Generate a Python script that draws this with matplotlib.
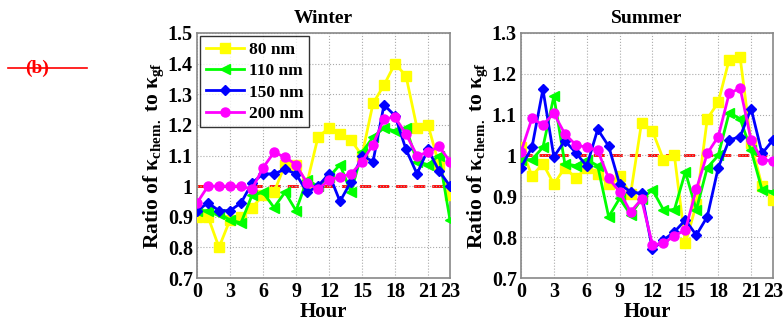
import numpy as np
import matplotlib
matplotlib.use("Agg")
import matplotlib.pyplot as plt

# ---------------- data ----------------
hours = list(range(24))
sizes = ["80 nm", "110 nm", "150 nm", "200 nm"]

winter_80 = [0.90, 0.90, 0.80, 0.89, 0.90, 0.93, 0.97, 0.98, 1.07, 1.07, 1.01, 1.16,
             1.19, 1.17, 1.15, 1.10, 1.27, 1.33, 1.40, 1.36, 1.19, 1.20, 1.07, 0.97]
winter_110 = [0.92, 0.92, 0.91, 0.89, 0.88, 0.97, 0.98, 0.93, 0.98, 0.92, 1.02, 1.00,
              1.03, 1.07, 0.98, 1.11, 1.16, 1.19, 1.18, 1.19, 1.08, 1.07, 1.10, 0.89]
winter_150 = [0.92, 0.945, 0.92, 0.92, 0.945, 1.01, 1.04, 1.04, 1.055, 1.04, 0.98, 1.00,
              1.04, 0.95, 1.015, 1.10, 1.08, 1.265, 1.23, 1.12, 1.04, 1.12, 1.05, 1.00]
winter_200 = [0.945, 1.00, 1.00, 1.00, 1.00, 0.99, 1.06, 1.11, 1.095, 1.07, 1.01, 0.99,
              1.02, 1.03, 1.04, 1.08, 1.135, 1.22, 1.225, 1.17, 1.10, 1.11, 1.13, 1.08]

summer_80 = [1.02, 0.95, 0.98, 0.93, 0.97, 0.945, 0.97, 0.955, 0.93, 0.95, 0.905, 1.08,
             1.06, 0.99, 1.00, 0.785, 0.88, 1.09, 1.13, 1.235, 1.24, 1.03, 0.925, 0.89]
summer_110 = [0.99, 0.99, 1.02, 1.145, 0.98, 0.975, 0.99, 0.975, 0.85, 0.895, 0.855, 0.893,
              0.916, 0.867, 0.867, 0.96, 0.867, 0.97, 1.00, 1.105, 1.09, 1.013, 0.916, 0.911]
summer_150 = [0.97, 1.02, 1.162, 0.997, 1.036, 1.007, 0.974, 1.064, 1.023, 0.93, 0.911, 0.907,
              0.77, 0.793, 0.813, 0.842, 0.805, 0.85, 0.97, 1.038, 1.046, 1.115, 1.005, 1.038]
summer_200 = [1.009, 1.091, 1.075, 1.103, 1.053, 1.026, 1.02, 1.013, 0.944, 0.911, 0.862, 0.893,
              0.781, 0.785, 0.803, 0.818, 0.917, 1.005, 1.046, 1.152, 1.165, 1.038, 0.989, 0.987]

xticks = [0, 3, 6, 9, 12, 15, 18, 21, 23]
winter_yticks = [0.7, 0.8, 0.9, 1.0, 1.1, 1.2, 1.3, 1.4, 1.5]
summer_yticks = [0.7, 0.8, 0.9, 1.0, 1.1, 1.2, 1.3]

colors = ["#ffff00", "#00ff00", "#0000ff", "#ff00ff"]
markers = ["s", "<", "D", "o"]
msizes = [6.5, 6.5, 5.5, 6.5]

# ---------------- figure ----------------
plt.rcParams["font.family"] = ["Liberation Serif", "DejaVu Serif"]
plt.rcParams["font.weight"] = "bold"
plt.rcParams["mathtext.fontset"] = "custom"
plt.rcParams["mathtext.rm"] = "Liberation Serif:bold"
plt.rcParams["mathtext.it"] = "Liberation Serif:bold"
plt.rcParams["mathtext.bf"] = "Liberation Serif:bold"

fig = plt.figure(figsize=(7.84, 3.29), dpi=100)
W, H = 784, 329
ax_w = fig.add_axes([197 / W, 1 - 278 / H, (450 - 197) / W, (278 - 33) / H])
ax_s = fig.add_axes([521 / W, 1 - 278 / H, (773 - 521) / W, (278 - 33) / H])


def fmt(v):
    return "1" if abs(v - 1) < 1e-9 else "%.1f" % v


def style(ax, series, yticks, title):
    ax.axhline(1.0, color="red", ls="--", lw=2, dashes=(4, 2.5), zorder=1)
    for vals, lab, c, m, ms in zip(series, sizes, colors, markers, msizes):
        ax.plot(hours, vals, color=c, marker=m, ms=ms, lw=2, label=lab, zorder=3)
    ax.set_xlim(0, 23)
    ax.set_ylim(yticks[0], yticks[-1])
    ax.set_xticks(xticks)
    ax.set_xticklabels([str(t) for t in xticks], fontsize=14.5, fontweight="bold")
    ax.set_yticks(yticks)
    ax.set_yticklabels([fmt(t) for t in yticks], fontsize=14.5, fontweight="bold")
    ax.grid(True, color="#aaaaaa", ls=":", lw=0.8)
    ax.tick_params(length=0, pad=3)
    for sp in ax.spines.values():
        sp.set_color("#888888")
        sp.set_linewidth(1.2)
    ax.set_title(title, fontsize=14, fontweight="bold", pad=7)
    ax.set_xlabel("Hour", fontsize=15, fontweight="bold", labelpad=0)
    ax.set_ylabel(r"Ratio of $\kappa_{\mathrm{chem.}}$ to $\kappa_{\mathrm{gf}}$",
                  fontsize=15.5, fontweight="bold", labelpad=1)


style(ax_w, [winter_80, winter_110, winter_150, winter_200], winter_yticks, "Winter")
style(ax_s, [summer_80, summer_110, summer_150, summer_200], summer_yticks, "Summer")

leg = ax_w.legend(loc="upper left", fontsize=12.5, frameon=True, fancybox=False,
                  borderaxespad=0.2, handlelength=2.2, labelspacing=0.3,
                  borderpad=0.3, handletextpad=0.3)
leg.get_frame().set_edgecolor("black")
leg.get_frame().set_linewidth(1.0)

# struck-through panel label
fig.text(37 / W, 1 - 68 / H, "(b)", color="red", fontsize=14, fontweight="bold",
         ha="center", va="center")
fig.add_artist(plt.Line2D([8 / W, 87 / W], [1 - 68 / H, 1 - 68 / H], color="red", lw=1.2))

fig.savefig("out.png", dpi=100)
